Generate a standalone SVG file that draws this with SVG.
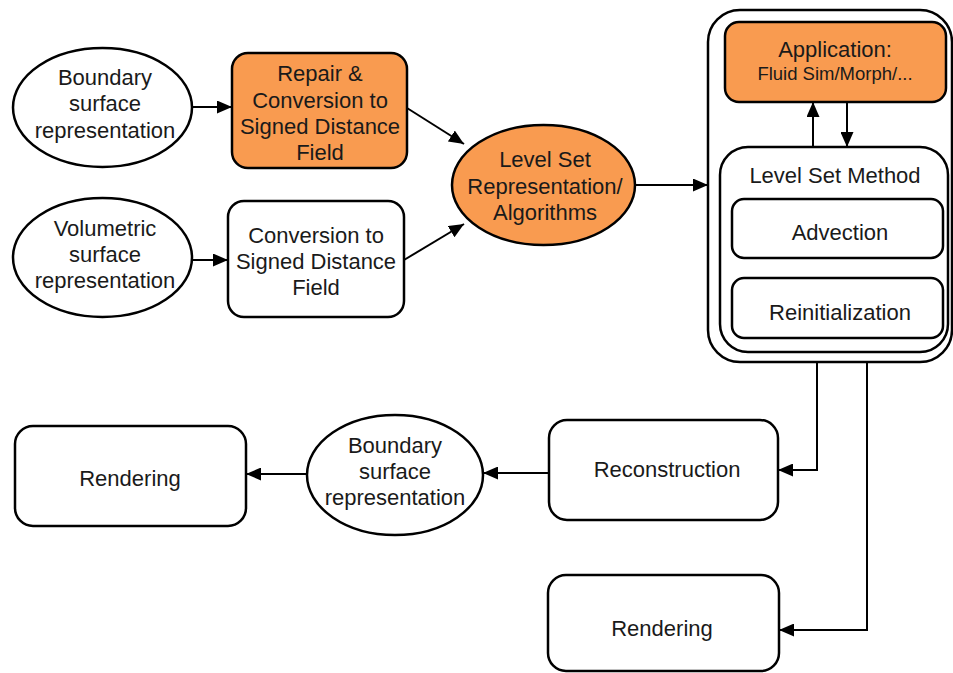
<svg xmlns="http://www.w3.org/2000/svg" width="953" height="673" viewBox="0 0 953 673">
<defs>
<marker id="arr" markerUnits="userSpaceOnUse" markerWidth="15" markerHeight="13" refX="15" refY="6.5" orient="auto">
<path d="M0,0 L15,6.5 L0,13 z" fill="#000"/>
</marker>
<style>
.s{fill:#fff;stroke:#000;stroke-width:2.5}
.o{fill:#F99B50;stroke:#000;stroke-width:2.5}
.t{font-family:"Liberation Sans",Arial,sans-serif;font-size:22px;fill:#1a1a1a;text-anchor:middle}
.sm{font-size:18.5px}
.c{fill:none;stroke:#000;stroke-width:2}
</style>
</defs>
<rect width="953" height="673" fill="#fff"/>

<g id="boundary1">
<ellipse class="s" cx="102.5" cy="107.5" rx="89.5" ry="59.5"/>
<text class="t" x="105" y="85">Boundary</text>
<text class="t" x="105" y="111">surface</text>
<text class="t" x="105" y="138">representation</text>
</g>

<g id="repair">
<rect class="o" x="232" y="53" width="175" height="115" rx="16"/>
<text class="t" x="320" y="81">Repair &amp;</text>
<text class="t" x="320" y="108">Conversion to</text>
<text class="t" x="320" y="134">Signed Distance</text>
<text class="t" x="320" y="160">Field</text>
</g>

<g id="volumetric">
<ellipse class="s" cx="102.5" cy="257.5" rx="89.5" ry="59.5"/>
<text class="t" x="105" y="236">Volumetric</text>
<text class="t" x="105" y="262">surface</text>
<text class="t" x="105" y="288">representation</text>
</g>

<g id="conversion">
<rect class="s" x="228" y="201" width="176" height="116" rx="16"/>
<text class="t" x="316" y="243">Conversion to</text>
<text class="t" x="316" y="269">Signed Distance</text>
<text class="t" x="316" y="295">Field</text>
</g>

<g id="levelset">
<ellipse class="o" cx="543.5" cy="185" rx="91.5" ry="60"/>
<text class="t" x="545" y="167">Level Set</text>
<text class="t" x="545" y="194">Representation/</text>
<text class="t" x="545" y="220">Algorithms</text>
</g>

<g id="container">
<rect class="s" x="708" y="10" width="244" height="352" rx="32"/>
</g>

<g id="application">
<rect class="o" x="725" y="22" width="221" height="80" rx="14"/>
<text class="t" x="835" y="57">Application:</text>
<text class="t sm" x="835" y="80">Fluid Sim/Morph/...</text>
</g>

<g id="lsm">
<rect class="s" x="720" y="147" width="228" height="205" rx="28"/>
<text class="t" x="835" y="183">Level Set Method</text>
</g>

<g id="advection">
<rect class="s" x="732" y="199" width="211" height="59" rx="12"/>
<text class="t" x="840" y="240">Advection</text>
</g>

<g id="reinit">
<rect class="s" x="732" y="278" width="211" height="60" rx="12"/>
<text class="t" x="840" y="320">Reinitialization</text>
</g>

<g id="reconstruction">
<rect class="s" x="549" y="420" width="229" height="100" rx="18"/>
<text class="t" x="667" y="477">Reconstruction</text>
</g>

<g id="boundary2">
<ellipse class="s" cx="395" cy="475" rx="88" ry="60"/>
<text class="t" x="395" y="453">Boundary</text>
<text class="t" x="395" y="479">surface</text>
<text class="t" x="395" y="505">representation</text>
</g>

<g id="rendering1">
<rect class="s" x="15" y="426" width="231" height="100" rx="18"/>
<text class="t" x="130" y="486">Rendering</text>
</g>

<g id="rendering2">
<rect class="s" x="548" y="575" width="231" height="96" rx="18"/>
<text class="t" x="662" y="636">Rendering</text>
</g>

<g id="connectors">
<line class="c" x1="192" y1="107" x2="232" y2="107" marker-end="url(#arr)"/>
<line class="c" x1="192" y1="260" x2="228" y2="260" marker-end="url(#arr)"/>
<line class="c" x1="407" y1="108" x2="464" y2="144" marker-end="url(#arr)"/>
<line class="c" x1="404" y1="260" x2="464" y2="224" marker-end="url(#arr)"/>
<line class="c" x1="635" y1="185" x2="708" y2="185" marker-end="url(#arr)"/>
<line class="c" x1="813" y1="147" x2="813" y2="102" marker-end="url(#arr)"/>
<line class="c" x1="847" y1="102" x2="847" y2="147" marker-end="url(#arr)"/>
<polyline class="c" points="817,362 817,470 778,470" marker-end="url(#arr)"/>
<polyline class="c" points="867,362 867,630 779,630" marker-end="url(#arr)"/>
<line class="c" x1="549" y1="473" x2="483" y2="473" marker-end="url(#arr)"/>
<line class="c" x1="307" y1="474" x2="246" y2="474" marker-end="url(#arr)"/>
</g>
</svg>
